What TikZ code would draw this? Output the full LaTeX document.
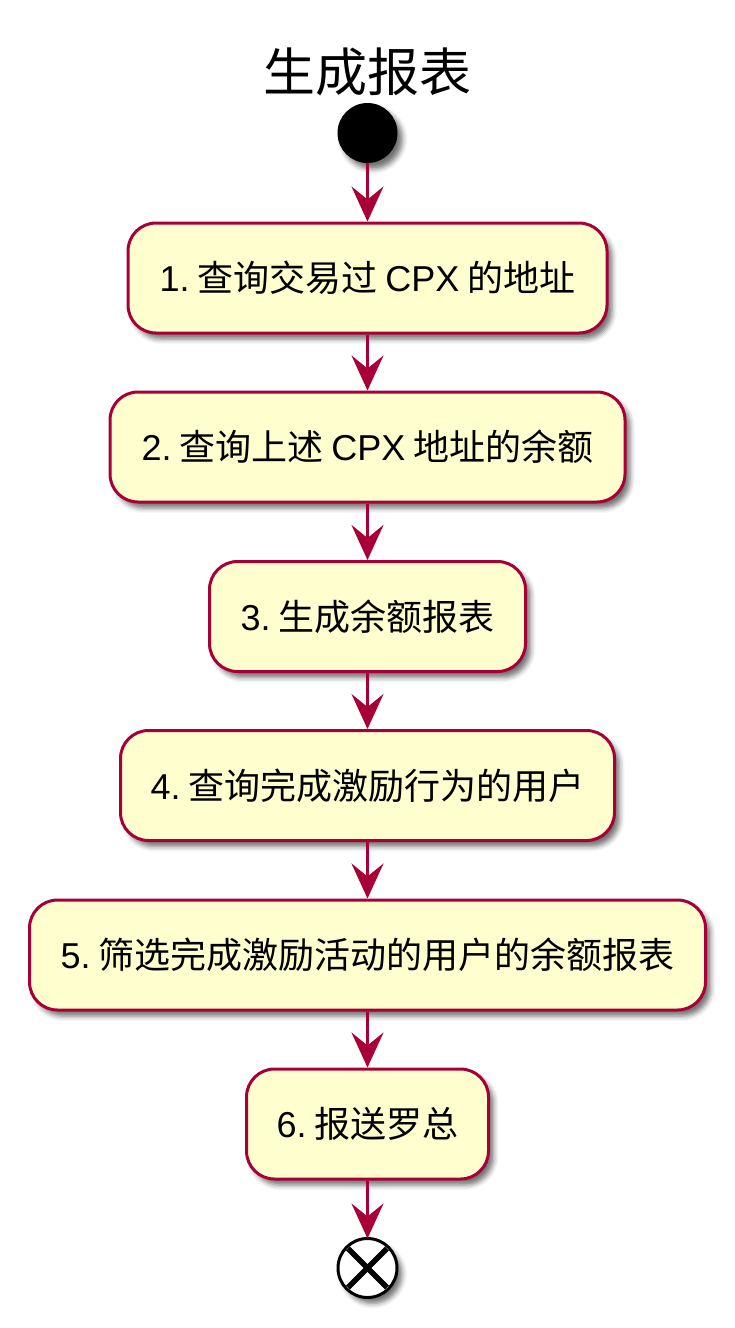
\documentclass[tikz,border=0pt]{standalone}
\usepackage{fontspec}
\setmainfont{Liberation Sans}
\newfontfamily\cjk{Noto Sans CJK SC}
\usetikzlibrary{arrows.meta,shadows.blur}
\definecolor{umlred}{HTML}{A80036}
\definecolor{umlfill}{HTML}{FEFECE}
\tikzset{
  umlshadow/.style={blur shadow={shadow xshift=5pt, shadow yshift=-6pt, shadow blur radius=5pt, shadow opacity=55}},
  act/.style={draw=umlred, fill=umlfill, line width=3pt, rounded corners=28pt,
    minimum height=110pt, inner sep=0pt, align=center,
    font=\fontsize{36pt}{43pt}\selectfont, umlshadow},
  flow/.style={draw=umlred, line width=3pt,
    -{Stealth[length=35pt, width=32pt, inset=13pt]}},
  startnode/.style={circle, fill=black, minimum size=60pt, inner sep=0pt, umlshadow},
  endnode/.style={circle, draw=black, fill=white, line width=3pt, minimum size=59pt, inner sep=0pt, outer sep=0pt, umlshadow},
  xline/.style={line width=5.5pt, shorten <=2pt, shorten >=2pt},
}
\newcommand{\gapsp}{\hspace{0.22em}}
\begin{document}
\begin{tikzpicture}[x=1pt, y=-1pt]
\useasboundingbox (0,0) rectangle (735,1328);
\node[font=\cjk\fontsize{52pt}{60pt}\selectfont] (title) at (367.5,72) {生成报表};
\node[startnode] (s) at (367.5,133) {};
\node[act, minimum width=479pt] (a1) at (367.5,278) {1.\gapsp{\cjk 查询交易过}\gapsp CPX\gapsp{\cjk 的地址}};
\node[act, minimum width=515pt] (a2) at (367.5,447) {2.\gapsp{\cjk 查询上述}\gapsp CPX\gapsp{\cjk 地址的余额}};
\node[act, minimum width=316pt] (a3) at (367.5,616.5) {3.\gapsp{\cjk 生成余额报表}};
\node[act, minimum width=494pt] (a4) at (367.5,785.5) {4.\gapsp{\cjk 查询完成激励行为的用户}};
\node[act, minimum width=676pt] (a5) at (367.5,955) {5.\gapsp{\cjk 筛选完成激励活动的用户的余额报表}};
\node[act, minimum width=242pt] (a6) at (367.5,1124) {6.\gapsp{\cjk 报送罗总}};
\node[endnode] (e) at (367.5,1268) {};
\draw[xline] (e.45) -- (e.225);
\draw[xline] (e.135) -- (e.315);
\draw[flow] (s.south) -- (a1.north);
\draw[flow] (a1.south) -- (a2.north);
\draw[flow] (a2.south) -- (a3.north);
\draw[flow] (a3.south) -- (a4.north);
\draw[flow] (a4.south) -- (a5.north);
\draw[flow] (a5.south) -- (a6.north);
\draw[flow] (a6.south) -- (e.north);
\end{tikzpicture}
\end{document}
